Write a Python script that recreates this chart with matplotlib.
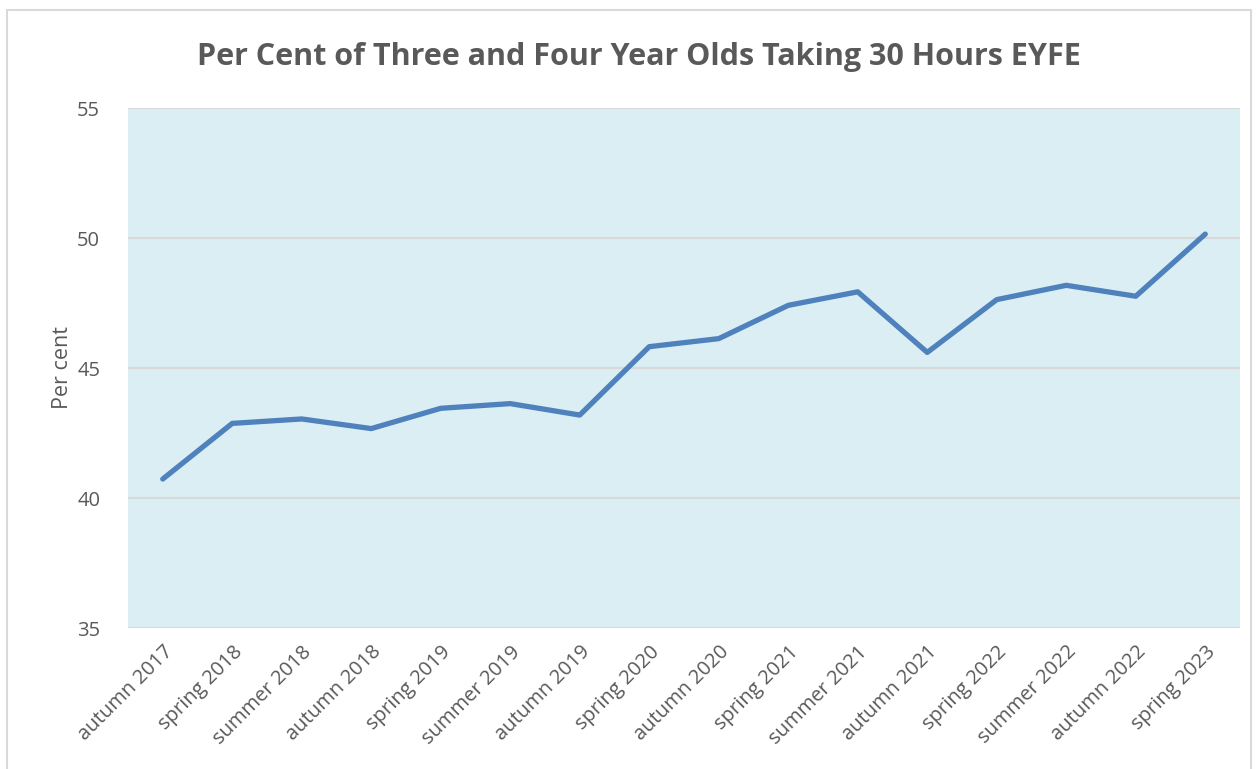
import matplotlib
matplotlib.use("Agg")
import matplotlib.pyplot as plt
from matplotlib.patches import Rectangle

terms = ["autumn 2017", "spring 2018", "summer 2018", "autumn 2018",
         "spring 2019", "summer 2019", "autumn 2019", "spring 2020",
         "autumn 2020", "spring 2021", "summer 2021", "autumn 2021",
         "spring 2022", "summer 2022", "autumn 2022", "spring 2023"]
per_cent = [40.73, 42.87, 43.04, 42.67, 43.45, 43.63, 43.19, 45.82,
            46.13, 47.41, 47.93, 45.60, 47.63, 48.18, 47.76, 50.15]
y_ticks = [35, 40, 45, 50, 55]

TEXT = "#595959"
plt.rcParams["font.family"] = ["Open Sans", "DejaVu Sans"]

fig = plt.figure(figsize=(12.58, 7.69), dpi=100)
ax = fig.add_axes([128 / 1258, 1 - 628 / 769, (1240 - 128) / 1258, (628 - 108) / 769])

# outer chart border
fig.patches.append(Rectangle((7 / 1258, -0.01), 1244 / 1258, 1 - 10 / 769 + 0.01,
                             transform=fig.transFigure, fill=False,
                             edgecolor="#D9D9D9", linewidth=1.5))

ax.set_facecolor("#DAEEF3")
x = list(range(len(terms)))
ax.plot(x, per_cent, color="#4F81BD", linewidth=3.8, solid_capstyle="round",
        solid_joinstyle="round", zorder=3)

ax.set_xlim(-0.5, len(terms) - 0.5)
ax.set_ylim(35, 55)
ax.set_yticks(y_ticks)
ax.set_xticks(x)
ax.set_xticklabels(terms, rotation=45, ha="right", rotation_mode="anchor",
                   fontsize=14.5, color=TEXT)
ax.tick_params(axis="y", labelsize=14.5, labelcolor=TEXT, length=0, pad=20)
ax.tick_params(axis="x", length=0, pad=10)
ax.grid(axis="y", color="#D9D9D9", linewidth=1.5)
ax.set_axisbelow(True)
for s in ax.spines.values():
    s.set_visible(False)

ax.set_ylabel("Per cent", fontsize=15.5, color=TEXT, labelpad=3)
fig.text(0.508, 1 - 57 / 769, "Per Cent of Three and Four Year Olds Taking 30 Hours EYFE",
         ha="center", va="center", fontsize=22, fontweight="bold", color=TEXT)

fig.savefig("out.png", dpi=100)
